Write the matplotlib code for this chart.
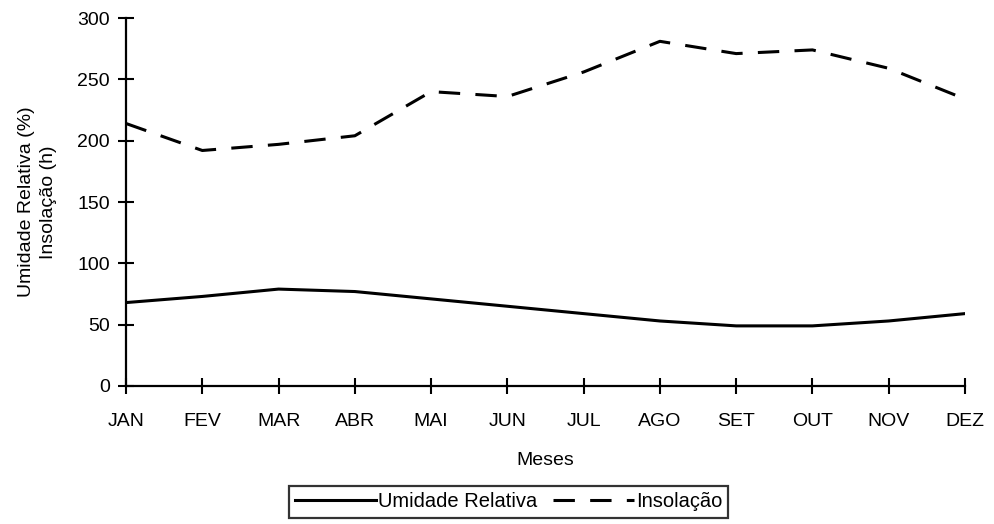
import matplotlib
matplotlib.use("Agg")
import matplotlib.pyplot as plt

plt.rcParams['font.family'] = ['Liberation Sans', 'DejaVu Sans']

meses = ['JAN', 'FEV', 'MAR', 'ABR', 'MAI', 'JUN', 'JUL', 'AGO', 'SET', 'OUT', 'NOV', 'DEZ']
umidade = [68, 73, 79, 77, 71, 65, 59, 53, 49, 49, 53, 59]
insolacao = [214, 192, 197, 204, 240, 236, 256, 281, 271, 274, 259, 234]
yticks = [0, 50, 100, 150, 200, 250, 300]

fs = 14

fig = plt.figure(figsize=(9.94, 5.24), dpi=100)
ax = fig.add_axes([0.1268, 0.2634, 0.844, 0.7022])

x = range(len(meses))
ax.plot(x, umidade, color='black', lw=2.2, label='Umidade Relativa')
ax.plot(x, insolacao, color='black', lw=2.2, dashes=(7, 5), label='Insolação')

ax.set_xlim(0, len(meses) - 1)
ax.set_ylim(0, 300)
ax.set_xticks(list(x))
ax.set_xticklabels(meses)
ax.set_yticks(yticks)

for s in ['top', 'right']:
    ax.spines[s].set_visible(False)
for s in ['left', 'bottom']:
    ax.spines[s].set_linewidth(1.6)
ax.tick_params(direction='inout', length=11, width=1.5, labelsize=fs)
ax.tick_params(axis='x', pad=14)
ax.tick_params(axis='y', pad=6)

ax.set_xlabel('Meses', fontsize=fs, labelpad=16)
ax.set_ylabel('Umidade Relativa (%)\nInsolação (h)', fontsize=fs, labelpad=15,
              linespacing=1.35)

leg = fig.legend(loc='center', bbox_to_anchor=(0.512, 0.042), ncol=2, frameon=True,
                 fancybox=False, edgecolor='black', fontsize=14.5,
                 handlelength=4.0, handletextpad=0.1, columnspacing=0.8,
                 borderpad=0.3, borderaxespad=0)
leg.get_frame().set_linewidth(1.6)

fig.savefig('out.png', dpi=100)
